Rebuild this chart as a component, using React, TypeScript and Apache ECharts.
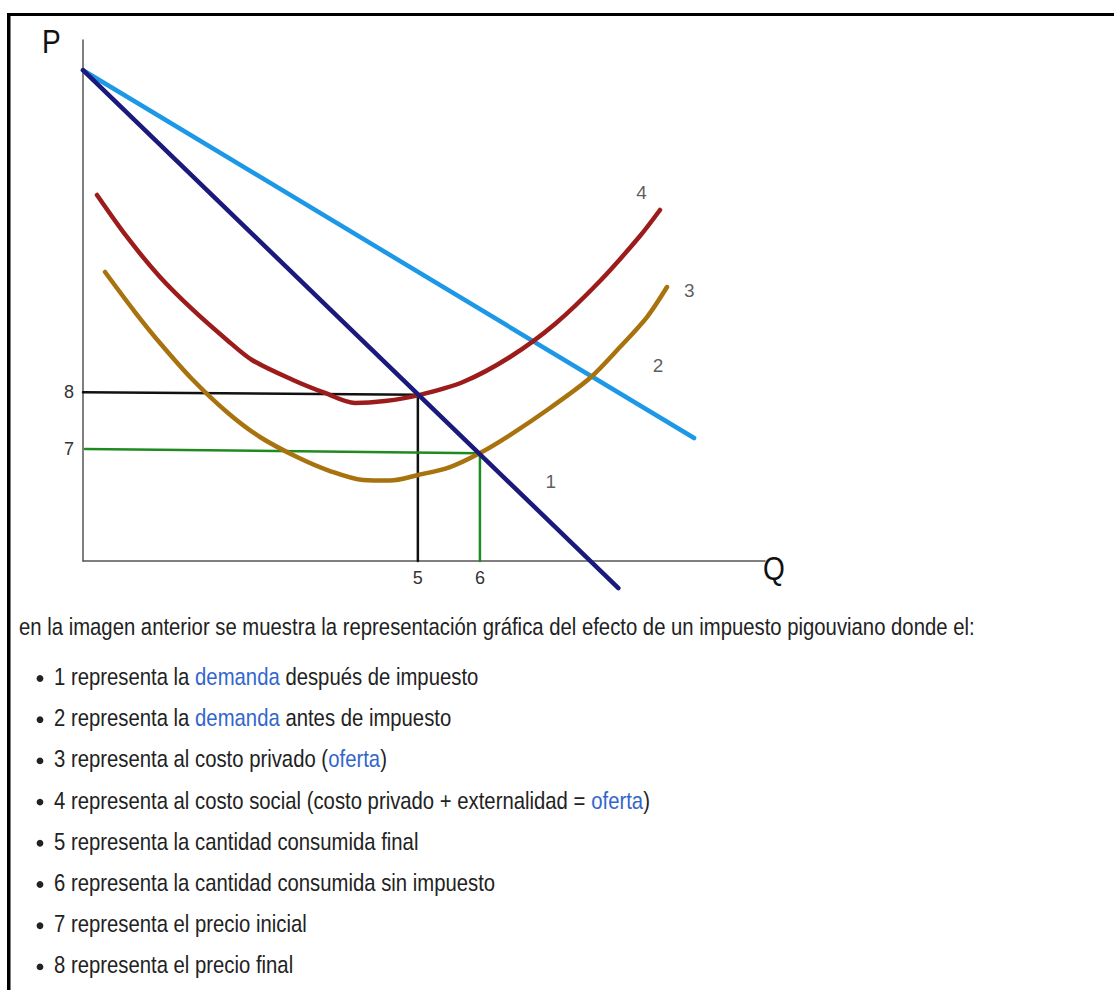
import React, { useEffect, useRef } from "react";
import * as echarts from "echarts";

// ---- data (Q in axis units 0..100, P in axis units 0..100) ----
const demandAfterTax: [number, number][] = [
  [0, 94.2],
  [78.5, -5.2],
];
const demandBeforeTax: [number, number][] = [
  [0, 94.2],
  [89.6, 23.6],
];
const socialCost: [number, number][] = [
  [2.05, 70.25], [6.45, 62.19], [11.29, 54.51], [16.13, 48.18], [21.11, 42.42], [24.78, 38.58],
  [30.79, 34.74], [35.48, 32.25], [39.88, 30.33], [44.28, 30.71], [49.12, 31.8], [55.72, 34.36],
  [62.61, 39.16], [69.21, 45.49], [75.81, 53.74], [81.67, 62.38], [84.6, 67.37],
];
const privateCost: [number, number][] = [
  [3.23, 55.47], [7.62, 47.79], [11.29, 41.84], [15.98, 34.93], [21.26, 28.41], [25.95, 23.8],
  [31.38, 19.96], [36.22, 17.27], [41.06, 15.55], [45.01, 15.45], [49.12, 16.51], [53.81, 18.04],
  [58.21, 20.73], [62.61, 24.18], [68.48, 29.37], [74.34, 35.12], [78.74, 41.07], [82.7, 46.83],
  [85.63, 52.59],
];
const finalPriceGuide: [number, number][] = [
  [0, 32.4], [49.1, 31.9], [49.1, 0],
];
const initialPriceGuide: [number, number][] = [
  [0.3, 21.5], [58.2, 20.7], [58.2, 0],
];
const qTickValues = [49.1, 58.2];
const qTickLabels = ["5", "6"];
const pTickValues = [21.5, 32.4];
const pTickLabels = ["7", "8"];
const curveNames = ["1", "2", "3", "4"];
const curveLabelPos: [number, number][] = [
  [68.6, 15.2], [84.3, 37.6], [88.9, 52.0], [81.9, 70.8],
];

const introText =
  "en la imagen anterior se muestra la representación gráfica del efecto de un impuesto pigouviano donde el:";
const bulletItems: [string, string][][] = [
  [["1 representa la ", "n"], ["demanda", "l"], [" después de impuesto", "n"]],
  [["2 representa la ", "n"], ["demanda", "l"], [" antes de impuesto", "n"]],
  [["3 representa al costo privado (", "n"], ["oferta", "l"], [")", "n"]],
  [["4 representa al costo social (costo privado + externalidad = ", "n"], ["oferta", "l"], [")", "n"]],
  [["5 representa la cantidad consumida final", "n"]],
  [["6 representa la cantidad consumida sin impuesto", "n"]],
  [["7 representa el precio inicial", "n"]],
  [["8 representa el precio final", "n"]],
];

const FONT = "'Liberation Sans', Arial, sans-serif";

export default function App() {
  const ref = useRef<HTMLDivElement>(null);
  useEffect(() => {
    if (!ref.current) return;
    const chart = echarts.init(ref.current, null, { renderer: "svg" });

    const textFs = 24;
    const sx = 0.846;
    const graphics: any[] = [
      { type: "rect", shape: { x: 7, y: 13, width: 1107, height: 3 }, style: { fill: "#000" } },
      { type: "rect", shape: { x: 7, y: 13, width: 3.5, height: 977 }, style: { fill: "#000" } },
      {
        type: "text", x: 42, y: 41, scaleX: 0.85,
        style: { text: "P", fontSize: 33, fontFamily: FONT, fill: "#111", verticalAlign: "middle", align: "left" },
      },
      {
        type: "text", x: 763, y: 568, scaleX: 0.85,
        style: { text: "Q", fontSize: 33, fontFamily: FONT, fill: "#111", verticalAlign: "middle", align: "left" },
      },
      {
        type: "text", x: 19, y: 627, scaleX: sx,
        style: { text: introText, fontSize: textFs, fontFamily: FONT, fill: "#222", verticalAlign: "middle", align: "left" },
      },
    ];
    bulletItems.forEach((segs, i) => {
      const y = 677 + i * 41.2;
      graphics.push({ type: "circle", shape: { cx: 40, cy: y + 1.5, r: 3.4 }, style: { fill: "#222" } });
      graphics.push({
        type: "text", x: 54, y, scaleX: sx,
        style: {
          text: segs.map(([t, k]) => `{${k}|${t}}`).join(""),
          fontSize: textFs, fontFamily: FONT, fill: "#222", verticalAlign: "middle", align: "left",
          rich: {
            n: { fontSize: textFs, fontFamily: FONT, fill: "#222" },
            l: { fontSize: textFs, fontFamily: FONT, fill: "#3366cc" },
          },
        },
      });
    });

    const lineSeries = (data: [number, number][], color: string, width: number, smooth: number | boolean = false) => ({
      type: "line",
      data,
      clip: false,
      symbol: "none",
      smooth,
      lineStyle: { color, width, cap: "round", join: "round" },
      z: 3,
    });

    chart.setOption({
      animation: false,
      backgroundColor: "#fff",
      grid: { left: 83, top: 40, width: 682, height: 521, containLabel: false },
      xAxis: {
        type: "value", min: 0, max: 100,
        axisLine: { show: true, onZero: false, lineStyle: { color: "#555", width: 1.5 } },
        axisTick: { show: false },
        splitLine: { show: false },
        axisLabel: {
          show: true, customValues: qTickValues, margin: 8,
          fontSize: 18, fontFamily: FONT, color: "#333",
          formatter: (v: number) => {
            const i = qTickValues.findIndex((t) => Math.abs(t - v) < 1e-6);
            return i >= 0 ? qTickLabels[i] : "";
          },
        },
      },
      yAxis: {
        type: "value", min: 0, max: 100,
        axisLine: { show: true, onZero: false, lineStyle: { color: "#555", width: 1.5 } },
        axisTick: { show: false },
        splitLine: { show: false },
        axisLabel: {
          show: true, customValues: pTickValues, margin: 9,
          fontSize: 18, fontFamily: FONT, color: "#333",
          formatter: (v: number) => {
            const i = pTickValues.findIndex((t) => Math.abs(t - v) < 1e-6);
            return i >= 0 ? pTickLabels[i] : "";
          },
        },
      },
      graphic: graphics,
      series: [
        lineSeries(finalPriceGuide, "#111111", 2.5),
        lineSeries(initialPriceGuide, "#1f8a1f", 2.5),
        lineSeries(demandBeforeTax, "#1c98e6", 4.5),
        lineSeries(privateCost, "#a8730f", 4.5, 0.3),
        lineSeries(socialCost, "#9c1c1c", 4.5, 0.3),
        lineSeries(demandAfterTax, "#1a1a7c", 4.5),
        {
          type: "scatter",
          symbolSize: 0,
          clip: false,
          data: curveLabelPos.map((p, i) => ({ value: p, name: curveNames[i] })),
          label: {
            show: true, position: "inside", formatter: "{b}",
            fontSize: 19, fontFamily: FONT, color: "#333",
          },
          z: 5,
        },
      ],
    });
    return () => chart.dispose();
  }, []);
  return (
    <div
      ref={ref}
      style={{ position: "absolute", left: 0, top: 0, width: 1114, height: 990, background: "#fff" }}
    />
  );
}
